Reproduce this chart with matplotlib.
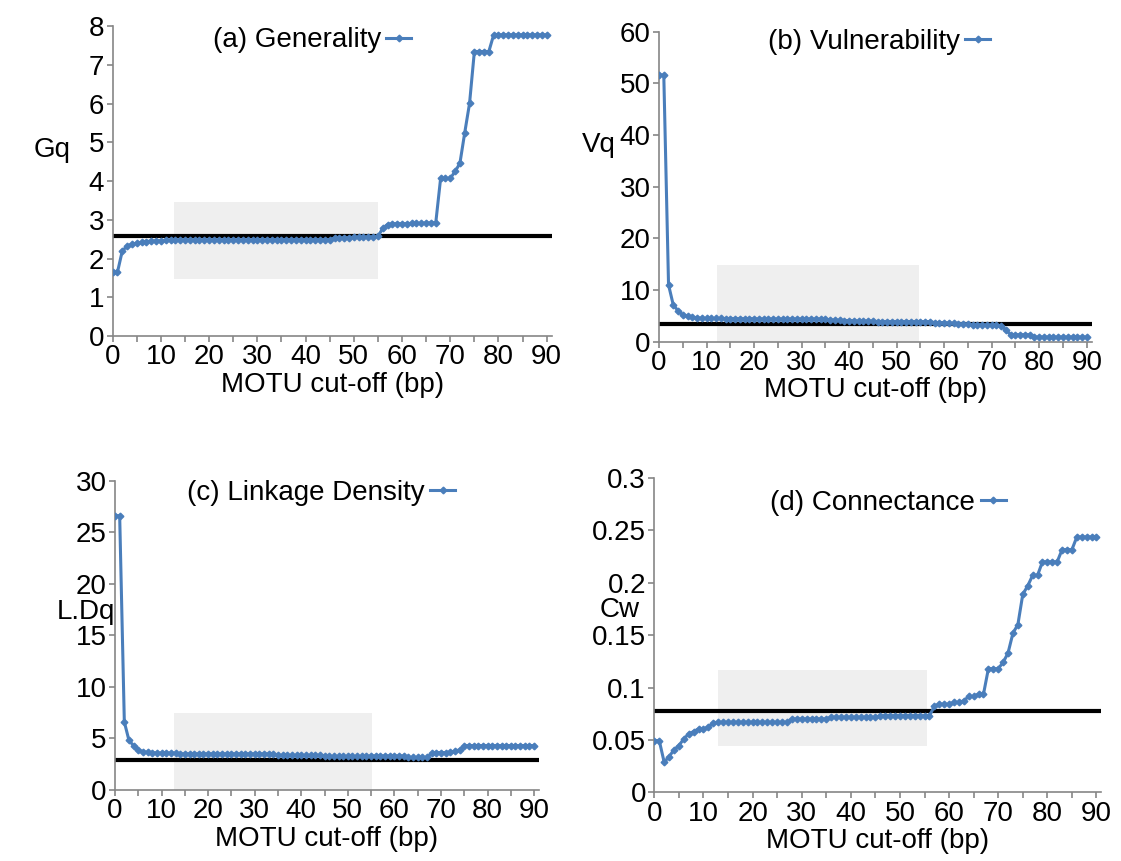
import numpy as np
import matplotlib
matplotlib.use('Agg')
import matplotlib.pyplot as plt
from matplotlib.patches import Rectangle

plt.rcParams['font.family'] = ['Liberation Sans', 'DejaVu Sans']

# MOTU cut-off values (bp)
cutoff = list(range(0, 91))

# (a) Generality
gq = ([1.65, 1.65, 2.20, 2.32, 2.37, 2.40, 2.42, 2.44, 2.45, 2.46, 2.46, 2.47, 2.47]
      + [2.48] * 20 + [2.49] * 13
      + [2.53, 2.53, 2.54, 2.54, 2.55, 2.55, 2.55, 2.56, 2.56, 2.57]
      + [2.78, 2.88, 2.90, 2.90, 2.90, 2.90, 2.91, 2.91, 2.91, 2.92, 2.92, 2.93]
      + [4.07, 4.07, 4.07, 4.25, 4.46, 5.25, 6.01, 7.35, 7.35, 7.35, 7.35]
      + [7.78] * 12)

# (b) Vulnerability
vq = ([51.6, 51.6, 11.0, 7.1, 6.0, 5.2, 4.9, 4.7, 4.6, 4.55, 4.5]
      + [4.5, 4.5, 4.5, 4.48, 4.48, 4.46, 4.46, 4.45, 4.45, 4.45]
      + [4.4] * 15
      + [4.2, 4.2, 4.15, 4.1, 4.1, 4.05, 4.0, 4.0, 4.0, 4.0]
      + [3.9] * 12
      + [3.7, 3.7, 3.7, 3.6, 3.55, 3.5, 3.45, 3.4]
      + [3.3, 3.3, 3.25, 3.2, 3.2, 3.15, 3.1]
      + [2.3, 1.35, 1.35, 1.35, 1.35, 1.35]
      + [0.9] * 12)

# (c) Linkage Density
ldq = ([26.6, 26.6, 6.6, 4.8, 4.3, 3.85, 3.7, 3.65, 3.62]
       + [3.58] * 5 + [3.5] * 21
       + [3.35] * 10 + [3.25] * 10 + [3.3] * 8
       + [3.15] * 5
       + [3.55, 3.62, 3.62, 3.62, 3.65, 3.75, 3.9]
       + [4.3] * 16)

# (d) Connectance
cw = ([0.0494, 0.0494, 0.0288, 0.034, 0.0405, 0.0446, 0.051, 0.0557, 0.058,
       0.0605, 0.060, 0.0627, 0.066]
      + [0.0668] * 15 + [0.070] * 8 + [0.0716] * 10 + [0.0731] * 11
      + [0.082, 0.0842, 0.084, 0.084, 0.0858, 0.0858, 0.0874, 0.0915, 0.0915,
         0.0937, 0.0937]
      + [0.118, 0.118, 0.118, 0.124, 0.133, 0.152, 0.16, 0.189, 0.197, 0.207, 0.207]
      + [0.22] * 4 + [0.2316] * 3 + [0.2437] * 5)

series = [gq, vq, ldq, cw]
titles = ['(a) Generality', '(b) Vulnerability', '(c) Linkage Density', '(d) Connectance']
ylabels = ['Gq', 'Vq', 'L.Dq', 'Cw']
ylims = [(0, 8), (0, 60), (0, 30), (0, 0.3)]
yticks = [np.arange(0, 9, 1), np.arange(0, 61, 10), np.arange(0, 31, 5),
          np.arange(0, 0.301, 0.05)]
ytick_labels = [[str(v) for v in range(0, 9)],
                [str(v) for v in range(0, 61, 10)],
                [str(v) for v in range(0, 31, 5)],
                ['0', '0.05', '0.1', '0.15', '0.2', '0.25', '0.3']]
ref_line = [2.58, 3.35, 2.95, 0.0773]
# shaded window: x0, x1, y0, y1
boxes = [(12.7, 55.1, 1.48, 3.47), (12.3, 54.6, 0, 14.8),
         (12.7, 55.1, 0, 7.47), (13.0, 55.5, 0.0446, 0.117)]

axes_pos = [[0.1005, 0.6098, 0.3915, 0.3596],
            [0.5879, 0.6031, 0.3858, 0.3601],
            [0.1026, 0.0825, 0.3780, 0.3592],
            [0.5837, 0.0798, 0.3988, 0.3650]]
ylab_xy = [(-0.138, 0.60), (-0.14, 0.634), (-0.068, 0.575), (-0.077, 0.58)]
leg_xy = [(0.454, 0.955), (0.509, 0.967), (0.486, 0.96), (0.523, 0.92)]

blue = '#4a7ebb'
grey = '#868686'
fs = 20

fig = plt.figure(figsize=(11.21, 8.61), dpi=100)
for i in range(4):
    ax = fig.add_axes(axes_pos[i])
    x0, x1, y0, y1 = boxes[i]
    ax.add_patch(Rectangle((x0, y0), x1 - x0, y1 - y0, facecolor='#efefef',
                           edgecolor='none', zorder=0))
    ax.axhline(ref_line[i], color='black', lw=3, zorder=2)
    ax.plot(cutoff, series[i], color=blue, lw=2.2, marker='D', ms=3.4,
            label=titles[i], zorder=3)
    ax.set_xlim(0, 91)
    ax.set_ylim(*ylims[i])
    ax.set_xticks(range(0, 91, 10))
    ax.set_xticks(range(5, 91, 10), minor=True)
    ax.set_yticks(yticks[i])
    ax.set_yticklabels(ytick_labels[i])
    for s in ['top', 'right']:
        ax.spines[s].set_visible(False)
    for s in ['left', 'bottom']:
        ax.spines[s].set_color(grey)
        ax.spines[s].set_linewidth(1.2)
    ax.tick_params(axis='both', which='both', color=grey, length=4, width=1.2,
                   labelsize=fs, pad=2)
    ax.set_xlabel('MOTU cut-off (bp)', fontsize=fs, labelpad=1)
    ax.set_ylabel(ylabels[i], fontsize=fs, rotation=0, ha='center', va='center')
    ax.yaxis.set_label_coords(*ylab_xy[i])
    ax.legend(loc='center', bbox_to_anchor=leg_xy[i], frameon=False,
              markerfirst=False, handlelength=0.9, handletextpad=0.2,
              fontsize=fs, borderpad=0)

fig.savefig('out.png', dpi=100)
